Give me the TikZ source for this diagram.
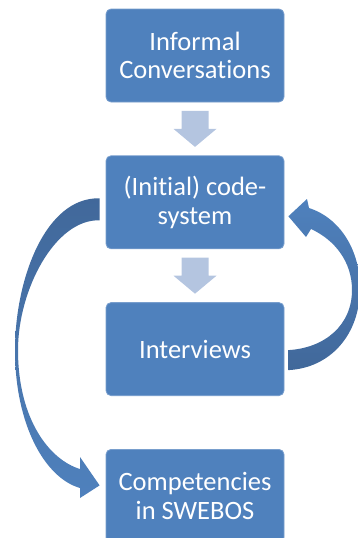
\documentclass[tikz,border=0pt]{standalone}
\usepackage{fontspec}
\setmainfont{Carlito}[Ligatures={NoCommon,NoContextual}]
\usetikzlibrary{positioning,calc}
\definecolor{boxblue}{RGB}{79,129,189}
\definecolor{boxline}{RGB}{120,158,205}
\definecolor{darkblue}{RGB}{65,104,154}
\definecolor{paleblue}{RGB}{180,197,224}
\tikzset{
  stage/.style={draw=boxline,line width=0.8pt,fill=boxblue,rounded corners=5pt,
    minimum width=178pt,minimum height=93pt,inner sep=0pt,align=center,
    text=white,font=\fontsize{26.5}{28.5}\selectfont},
  downarrow/.style={fill=paleblue},
  loopdown/.style={top color=darkblue,bottom color=boxblue},
  loopup/.style={top color=boxblue,bottom color=darkblue},
}

\begin{document}
\begin{tikzpicture}[x=1pt,y=-1pt]
    \useasboundingbox (0,0) rectangle (358,538);
    \node[stage] (conv) at (195,55.5) {Informal\\Conversations};
    \node[stage,below=53pt of conv] (code) {(Initial) code-\\system};
    \node[stage,below=53pt of code] (inter) {Interviews};
    \node[stage,below=53pt of inter] (comp) {Competencies\\in SWEBOS};

    % block arrows between the boxes
    \coordinate (m1) at ($(conv.south)!0.5!(code.north)$);
    \coordinate (m2) at ($(code.south)!0.5!(inter.north)$);
    \fill[downarrow] (m1) ++(-13.5,-18) -- ++(27,0) -- ++(0,18) -- ++(8,0)
        -- ++(-21.5,18) -- ++(-21.5,-18) -- ++(8,0) -- cycle;
    \fill[downarrow] (m2) ++(-13.5,-18) -- ++(27,0) -- ++(0,18) -- ++(8,0)
        -- ++(-21.5,18) -- ++(-21.5,-18) -- ++(8,0) -- cycle;

    % curved arrow code-system -> competencies
    \coordinate (la) at ([xshift=-6pt,yshift=4pt]code.west);
    \coordinate (lb) at ([xshift=-6pt,yshift=-18pt]code.west);
    \coordinate (lt) at ([xshift=-6pt,yshift=10.5pt]comp.west);
    \path[loopdown] (la) .. controls (45,197) and (15,280) .. (15,350)
        .. controls (15,425) and (45,478) .. (80,488) -- (80,498) -- (lt)
        -- (80,457) -- (80,469) .. controls (50,460) and (18,420) .. (18,350)
        .. controls (18,290) and (55,219) .. (lb) -- cycle;

    % curved arrow interviews -> code-system
    \coordinate (ra) at ([xshift=4pt,yshift=-1pt]inter.east);
    \coordinate (rb) at ([xshift=4pt,yshift=-21pt]inter.east);
    \coordinate (rt) at ([xshift=4pt,yshift=-14pt]code.east);
    \path[loopup] (ra) .. controls (325,348) and (352,325) .. (352,290)
        .. controls (352,262) and (335,240) .. (311,229) -- (306,237) -- (rt)
        -- (307,199) -- (309,208) .. controls (340,218) and (360,250) .. (360,288)
        .. controls (360,335) and (330,368) .. (rb) -- cycle;
\end{tikzpicture}
\end{document}
